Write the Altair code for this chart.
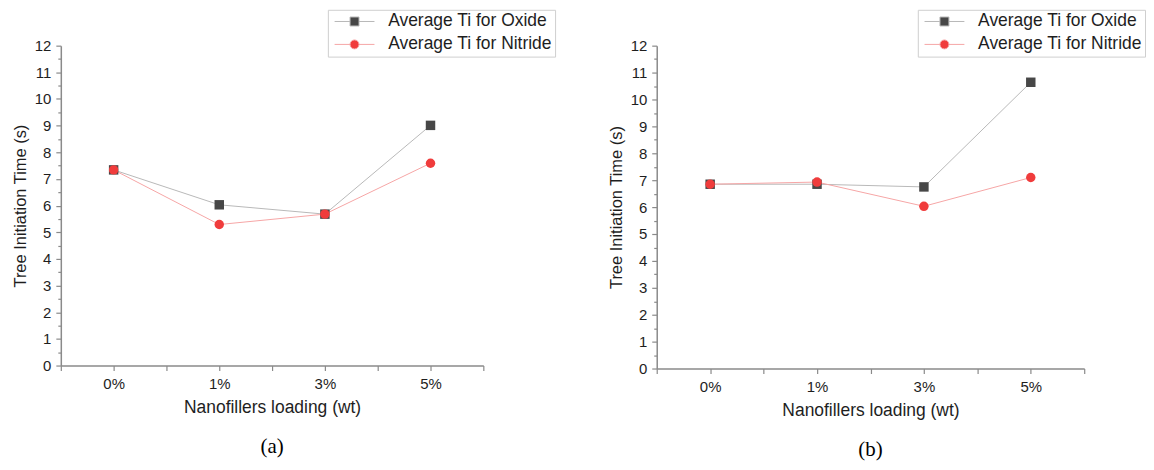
import json
import altair as alt
import pandas as pd

categories = ["0%", "1%", "3%", "5%"]
series = ["Average Ti for Oxide", "Average Ti for Nitride"]

oxide_a = [7.34, 6.03, 5.68, 9.01]
nitride_a = [7.34, 5.29, 5.68, 7.59]
oxide_b = [6.85, 6.85, 6.75, 10.64]
nitride_b = [6.85, 6.93, 6.03, 7.10]

y_ticks = [i * 0.5 for i in range(25)]
x_ticks = [i * 0.5 - 0.5 for i in range(9)]

marker_colors = ["#474747", "#f03c3c"]
line_colors = ["#b9b9b9", "#f6a6a6"]

FONT = "Liberation Sans"
TXT = "#1e1e1e"
AX = "#8a8a8a"

cat_js = json.dumps(categories)

# legend symbol paths: line segment with marker (square / circle) in the middle
SQ = "M-1.11,0H2.33M4.33,0H7.78M2.33,-1H4.33V1H2.33Z"
CI = "M-1.11,0H2.33M4.33,0H7.78M4.33,0A1,1 0 1,1 2.33,0A1,1 0 1,1 4.33,0Z"


def panel(oxide, nitride, caption, w, h, legend_x):
    df = pd.DataFrame({
        "idx": list(range(len(categories))) * 2,
        "value": oxide + nitride,
        "series": [series[0]] * len(oxide) + [series[1]] * len(nitride),
    })
    x_axis = alt.Axis(
        values=x_ticks,
        labelExpr=f"datum.value % 1 === 0 ? {cat_js}[datum.value] : ''",
        title="Nanofillers loading (wt)",
        titleFont=FONT, titleFontSize=17.5, titleFontWeight="normal", titleColor=TXT,
        titlePadding=7,
        labelFont=FONT, labelFontSize=15, labelColor=TXT, labelPadding=6,
        labelOverlap=False, labelFlush=False,
        tickSize=5, tickColor=AX, tickWidth=1.2,
        domainColor=AX, domainWidth=1.5, grid=False,
    )
    y_axis = alt.Axis(
        values=y_ticks,
        labelExpr="datum.value % 1 === 0 ? format(datum.value, 'd') : ''",
        title="Tree Initiation Time (s)",
        titleFont=FONT, titleFontSize=16.5, titleFontWeight="normal", titleColor=TXT,
        titlePadding=6,
        labelFont=FONT, labelFontSize=15, labelColor=TXT, labelPadding=5,
        labelOverlap=False, labelFlush=False,
        tickSize={"condition": {"test": "datum.value % 1 === 0", "value": 5}, "value": 3},
        tickColor=AX, tickWidth=1.2,
        domainColor=AX, domainWidth=1.5, grid=False,
    )
    x = alt.X("idx:Q", scale=alt.Scale(domain=[-0.5, len(categories) - 0.5], nice=False, zero=False), axis=x_axis)
    y = alt.Y("value:Q", scale=alt.Scale(domain=[0, 12], nice=False, zero=True), axis=y_axis)

    base = alt.Chart(df)
    lines = base.mark_line(strokeWidth=1).encode(
        x=x, y=y,
        stroke=alt.Stroke("series:N", scale=alt.Scale(domain=series, range=line_colors), legend=None),
    )
    points = base.mark_point(filled=True, size=90, opacity=1, strokeWidth=0).encode(
        x=x, y=y,
        fill=alt.Fill("series:N", scale=alt.Scale(domain=series, range=marker_colors), legend=None),
        shape=alt.Shape("series:N", scale=alt.Scale(domain=series, range=["square", "circle"]), legend=None),
    )
    leg = alt.Legend(
        orient="none", legendX=legend_x, legendY=-36, title=None,
        padding=3, strokeColor="#cfcfcf", fillColor="white",
        labelFont=FONT, labelFontSize=17.5, labelColor=TXT, labelLimit=400,
        symbolSize=81, symbolStrokeWidth=1, labelOffset=40, rowPadding=4,
        symbolOpacity=1,
    )
    legend_layer = base.transform_filter("false").mark_point(filled=True, strokeWidth=1).encode(
        fill=alt.Fill("series:N", scale=alt.Scale(domain=series, range=marker_colors), legend=leg),
        stroke=alt.Stroke("series:N", scale=alt.Scale(domain=series, range=line_colors), legend=leg),
        shape=alt.Shape("series:N", scale=alt.Scale(domain=series, range=[SQ, CI]), legend=leg),
    )
    return alt.layer(lines, points, legend_layer).resolve_scale(
        fill="independent", stroke="independent", shape="independent"
    ).properties(
        width=w, height=h,
        title=alt.TitleParams(
            text=caption, orient="bottom", anchor="middle", frame="group",
            font="Liberation Serif", fontSize=21, fontWeight="normal", color="#000", offset=20,
        ),
    )


pa = panel(oxide_a, nitride_a, "(a)", 424, 321, 268)
pb = panel(oxide_b, nitride_b, "(b)", 429, 324, 262)

chart = alt.hconcat(pa, pb, spacing=52).resolve_scale(
    fill="independent", stroke="independent", shape="independent"
).properties(
    padding={"left": 4, "top": 0, "right": 0, "bottom": 0}
).configure_view(stroke=None)

chart.save("out.html", embed_options={"renderer": "svg", "actions": False})
